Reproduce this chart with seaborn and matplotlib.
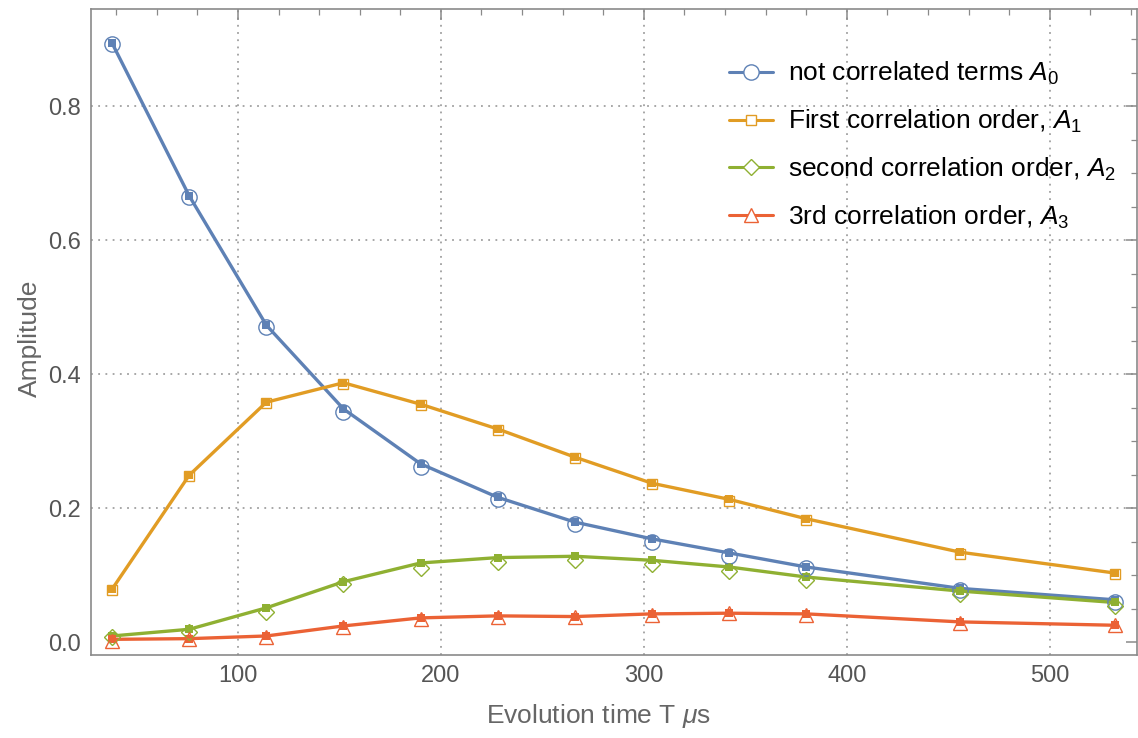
import matplotlib
matplotlib.use("Agg")
import matplotlib.pyplot as plt
from matplotlib.lines import Line2D
from matplotlib.ticker import MultipleLocator
import seaborn as sns
import pandas as pd

# ---- data ----
T = [38, 76, 114, 152, 190, 228, 266, 304, 342, 380, 456, 532]
A0_fit = [0.894, 0.666, 0.473, 0.348, 0.266, 0.216, 0.179, 0.154, 0.133, 0.112, 0.080, 0.063]
A0_pts = [0.893, 0.665, 0.470, 0.343, 0.261, 0.213, 0.176, 0.149, 0.128, 0.110, 0.078, 0.060]
A1_fit = [0.079, 0.249, 0.358, 0.387, 0.355, 0.318, 0.276, 0.237, 0.213, 0.184, 0.134, 0.103]
A1_pts = [0.078, 0.248, 0.357, 0.385, 0.354, 0.317, 0.275, 0.236, 0.211, 0.182, 0.132, 0.101]
A2_fit = [0.009, 0.019, 0.051, 0.090, 0.118, 0.126, 0.128, 0.122, 0.112, 0.097, 0.076, 0.059]
A2_pts = [0.007, 0.015, 0.045, 0.086, 0.111, 0.119, 0.122, 0.116, 0.106, 0.092, 0.072, 0.054]
A3_fit = [0.004, 0.005, 0.009, 0.024, 0.036, 0.039, 0.038, 0.042, 0.043, 0.042, 0.030, 0.025]
A3_pts = [0.002, 0.004, 0.008, 0.023, 0.034, 0.038, 0.037, 0.041, 0.043, 0.041, 0.029, 0.025]

labels = [r"not correlated terms $A_0$",
          r"First correlation order, $A_1$",
          r"second correlation order, $A_2$",
          r"3rd correlation order, $A_3$"]
colors = ["#5E81B5", "#E19C24", "#8FB032", "#EB6235"]
open_markers = ["o", "s", "D", "^"]
open_sizes = [11, 7.5, 8, 9.5]
x_ticks = [100, 200, 300, 400, 500]
y_ticks = [0.0, 0.2, 0.4, 0.6, 0.8]

fits = [A0_fit, A1_fit, A2_fit, A3_fit]
pts = [A0_pts, A1_pts, A2_pts, A3_pts]

rows = []
for lab, f, p in zip(labels, fits, pts):
    for t, fv, pv in zip(T, f, p):
        rows.append({"T": t, "fit": fv, "pt": pv, "series": lab})
df = pd.DataFrame(rows)

# ---- style ----
sns.set_theme(style="white")
plt.rcParams["font.family"] = ["Liberation Sans", "DejaVu Sans"]
plt.rcParams["mathtext.fontset"] = "custom"
plt.rcParams["mathtext.rm"] = "Liberation Sans"
plt.rcParams["mathtext.it"] = "Liberation Sans:italic"

W, H = 1138, 738
fig = plt.figure(figsize=(W / 100, H / 100), dpi=100)
ax = fig.add_axes([91 / W, 1 - 655 / H, (1137 - 91) / W, (655 - 9) / H])

pal = dict(zip(labels, colors))

# lines with small filled squares
sns.lineplot(data=df, x="T", y="fit", hue="series", palette=pal, ax=ax,
             marker="s", markersize=6, markeredgewidth=0, linewidth=2.4,
             legend=False, zorder=3)

# open markers
for lab, m, ms, c in zip(labels, open_markers, open_sizes, colors):
    sub = df[df["series"] == lab]
    ax.plot(sub["T"], sub["pt"], linestyle="none", marker=m, markersize=ms,
            markerfacecolor="none", markeredgecolor=c, markeredgewidth=1.0,
            zorder=4)

ax.set_xlim(27.6, 543)
ax.set_ylim(-0.0194, 0.945)
ax.set_xticks(x_ticks)
ax.set_yticks(y_ticks)
ax.set_yticklabels([f"{v:.1f}" for v in y_ticks])
ax.xaxis.set_minor_locator(MultipleLocator(20))
ax.yaxis.set_minor_locator(MultipleLocator(0.05))

spine_c = "#8a8a8a"
for s in ax.spines.values():
    s.set_color(spine_c)
    s.set_linewidth(1.2)
    s.set_visible(True)

ax.tick_params(which="both", direction="in", top=True, right=True,
               color=spine_c, labelcolor="#555555")
ax.tick_params(which="major", length=8, width=1.1, labelsize=17, pad=7)
ax.tick_params(which="minor", length=4.5, width=0.9)
ax.tick_params(axis="x", which="both", labeltop=False)
ax.tick_params(axis="y", which="both", labelright=False)

ax.grid(True, which="major", color="#a0a0a0", linestyle=(0, (1, 3)), linewidth=1.3)
for gl in ax.get_ygridlines():
    if abs(gl.get_ydata()[0]) < 1e-9:
        gl.set_visible(False)
ax.set_axisbelow(True)

ax.set_xlabel(r"Evolution time T $\mu$s", fontsize=19, color="#666666")
ax.set_ylabel("Amplitude", fontsize=19, color="#666666")
ax.xaxis.set_label_coords(0.485, -0.072)
ax.yaxis.set_label_coords(-0.047, 0.49)

handles = [Line2D([0], [0], color=c, linewidth=2.2, marker=m, markersize=ms,
                  markerfacecolor="white", markeredgecolor=c, markeredgewidth=1.0)
           for c, m, ms in zip(colors, open_markers, open_sizes)]
leg = ax.legend(handles, labels, loc="upper left",
                bbox_to_anchor=(729 / W, 1 - 60 / H), bbox_transform=fig.transFigure,
                frameon=False, fontsize=19, handlelength=1.65, labelspacing=0.78,
                handletextpad=0.6, borderpad=0, borderaxespad=0)
for t in leg.get_texts():
    t.set_color("black")

fig.savefig("out.png", dpi=100)
